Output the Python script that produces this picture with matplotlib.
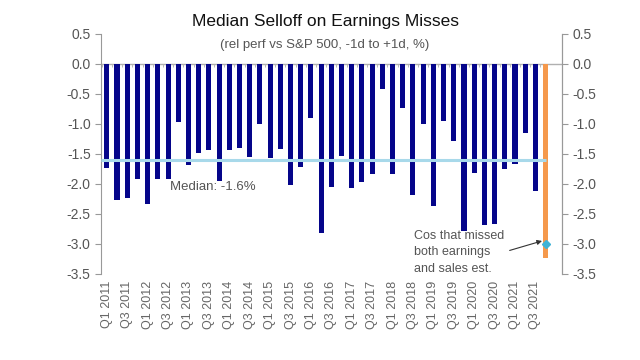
import numpy as np
import matplotlib
matplotlib.use('Agg')
from matplotlib import pyplot as plt

plt.rcParams['font.family'] = ['Liberation Sans', 'DejaVu Sans']

# quarterly median relative performance, Q1 2011 .. Q3 2021
quarters = ['Q%d %d' % (q, y) for y in range(2011, 2022) for q in (1, 2, 3, 4)][:43]
selloff = [-1.73, -2.27, -2.24, -1.92, -2.33, -1.92, -1.91, -0.97, -1.68, -1.48,
           -1.44, -1.95, -1.43, -1.40, -1.55, -1.01, -1.57, -1.42, -2.01, -1.72,
           -0.91, -2.82, -2.05, -1.53, -2.06, -1.97, -1.84, -0.42, -1.84, -0.74,
           -2.18, -1.01, -2.37, -0.95, -1.28, -2.78, -1.81, -2.68, -2.66, -1.75,
           -1.66, -1.16, -2.12]
both_missed = -3.24
both_marker = -3.0
median = -1.6

blue = '#05058a'
orange = '#f5994c'
grey = '#555555'

fig = plt.figure(figsize=(6.4, 3.6), dpi=100)
ax = fig.add_axes([0.158, 0.239, 0.72, 0.667])

x = np.arange(len(selloff))
ax.bar(x, selloff, width=0.5, color=blue, zorder=2)
xo = len(selloff)
ax.bar(xo, both_missed, width=0.45, color=orange, zorder=2)
ax.plot(xo, both_marker, marker='D', ms=4, color='#3fb3d6', zorder=4)

ax.hlines(median, -0.56, xo, color='#a8d9ea', lw=2.2, zorder=3)
ax.axhline(0, color='#b0b0b0', lw=1, zorder=1)
ax.vlines(np.arange(xo + 1) - 0.5, -0.05, 0, color='#b0b0b0', lw=0.6, zorder=1)

ax.set_xlim(-0.56, 44.6)
ax.set_ylim(-3.5, 0.5)
yt = np.arange(-3.5, 0.51, 0.5)
ax.set_yticks(yt)
ax.set_yticklabels(['%.1f' % v for v in yt])
ax.set_xticks(x[::2])
ax.set_xticklabels(quarters[::2], rotation=90)
ax.tick_params(axis='x', length=0, labelsize=9, colors='#666666', pad=5)
ax.tick_params(axis='y', length=4, width=0.8, color='#999999', labelsize=10, labelcolor=grey)

for s in ['top', 'bottom']:
    ax.spines[s].set_visible(False)
for s in ['left', 'right']:
    ax.spines[s].set_color('#999999')
    ax.spines[s].set_linewidth(0.8)

ax2 = ax.twinx()
ax2.set_ylim(-3.5, 0.5)
ax2.set_yticks(yt)
ax2.set_yticklabels(['%.1f' % v for v in yt])
ax2.tick_params(axis='y', length=4, width=0.8, color='#999999', labelsize=10, labelcolor=grey)
for s in ['top', 'bottom', 'left']:
    ax2.spines[s].set_visible(False)
ax2.spines['right'].set_color('#999999')
ax2.spines['right'].set_linewidth(0.8)

ax.text(6.2, -2.05, 'Median: -1.6%', color=grey, fontsize=9.5, va='center', ha='left')
ax.annotate('Cos that missed\nboth earnings\nand sales est.', xy=(xo - 0.35, -2.95),
            xytext=(30.1, -2.76), color=grey, fontsize=9, ha='left', va='top',
            linespacing=1.5,
            arrowprops=dict(arrowstyle='-|>', color='#333333', lw=0.8, mutation_scale=7,
                            shrinkA=2, shrinkB=0, relpos=(1.0, 0.5)))

fig.text(0.508, 0.94, 'Median Selloff on Earnings Misses', ha='center', va='center',
         fontsize=12.5, color='#111111')
fig.text(0.508, 0.875, '(rel perf vs S&P 500, -1d to +1d, %)', ha='center', va='center',
         fontsize=9.5, color=grey)

fig.savefig('out.png', dpi=100, facecolor='white')
